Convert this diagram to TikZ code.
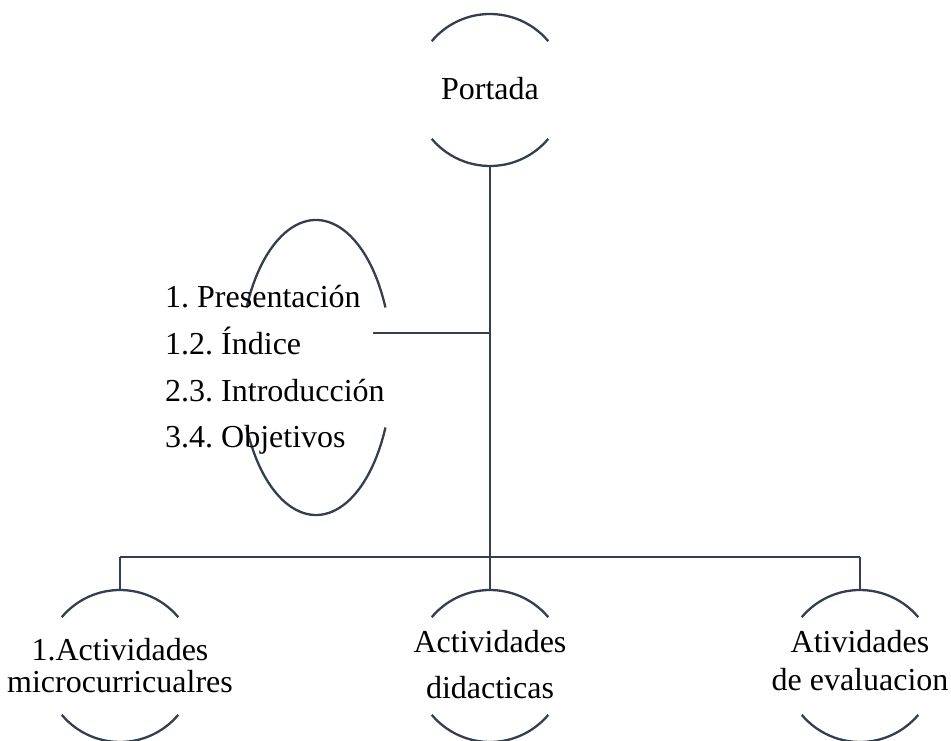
\documentclass[tikz,border=0pt]{standalone}
\usepackage{fontspec}
\setmainfont{Liberation Serif}
\usetikzlibrary{calc}
\definecolor{linec}{HTML}{333F50}
\begin{document}
\frenchspacing
\begin{tikzpicture}[x=1pt,y=1pt,
  arcline/.style={draw=linec,line width=2.3pt},
  conn/.style={draw=linec,line width=2.3pt},
  lbl/.style={inner sep=0pt,text=black,font=\fontsize{32}{38}\selectfont}]
\useasboundingbox (0,0) rectangle (951,740);
% circle centres
\coordinate (cP) at (490,650);
\coordinate (cL) at (316,372.5);
\coordinate (cA) at (120,74);
\coordinate (cB) at (490,74);
\coordinate (cC) at (860,74);
% partial circles
\foreach \c in {cP,cA,cB,cC}{
  \draw[arcline] ([shift={(40:76)}]\c) arc (40:140:76);
  \draw[arcline] ([shift={(220:76)}]\c) arc (220:320:76);
}
\draw[arcline] ([shift={(24:76 and 147.5)}]cL) arc (24:156:76 and 147.5);
\draw[arcline] ([shift={(204:76 and 147.5)}]cL) arc (204:336:76 and 147.5);
% texts
\node[lbl,anchor=base] (portada) at (490,640) {Portada};
\node[lbl,anchor=base west] (l1) at (165,432) {1. Presentación};
\node[lbl,anchor=base west] (l2) at (165,385) {1.2. Índice};
\node[lbl,anchor=base west] (l3) at (165,338) {2.3. Introducción};
\node[lbl,anchor=base west] (l4) at (165,292) {3.4. Objetivos};
\node[lbl,anchor=base] (a1) at (120,80) {1.Actividades};
\node[lbl,anchor=base] (a2) at (120,48) {microcurricualres};
\node[lbl,anchor=base] (b1) at (490,88) {Actividades};
\node[lbl,anchor=base] (b2) at (490,42) {didacticas};
\node[lbl,anchor=base] (c1) at (860,88) {Atividades};
\node[lbl,anchor=base] (c2) at (860,50) {de evaluacion};
% connector points
\coordinate (pbot) at ($(cP)+(0,-76)$);
\coordinate (bar) at (490,183);
\coordinate (barL) at (120,183);
\coordinate (barR) at (860,183);
\coordinate (branch) at (490,407);
\coordinate (lend) at (373,407);
\coordinate (atop) at ($(cA)+(0,76)$);
\coordinate (btop) at ($(cB)+(0,76)$);
\coordinate (ctop) at ($(cC)+(0,76)$);
\draw[conn] (pbot) -- (bar);
\draw[conn] (lend) -- (branch);
\draw[conn] (barL) -- (barR);
\draw[conn] (barL) -- (atop);
\draw[conn] (bar) -- (btop);
\draw[conn] (barR) -- (ctop);
\end{tikzpicture}
\end{document}
